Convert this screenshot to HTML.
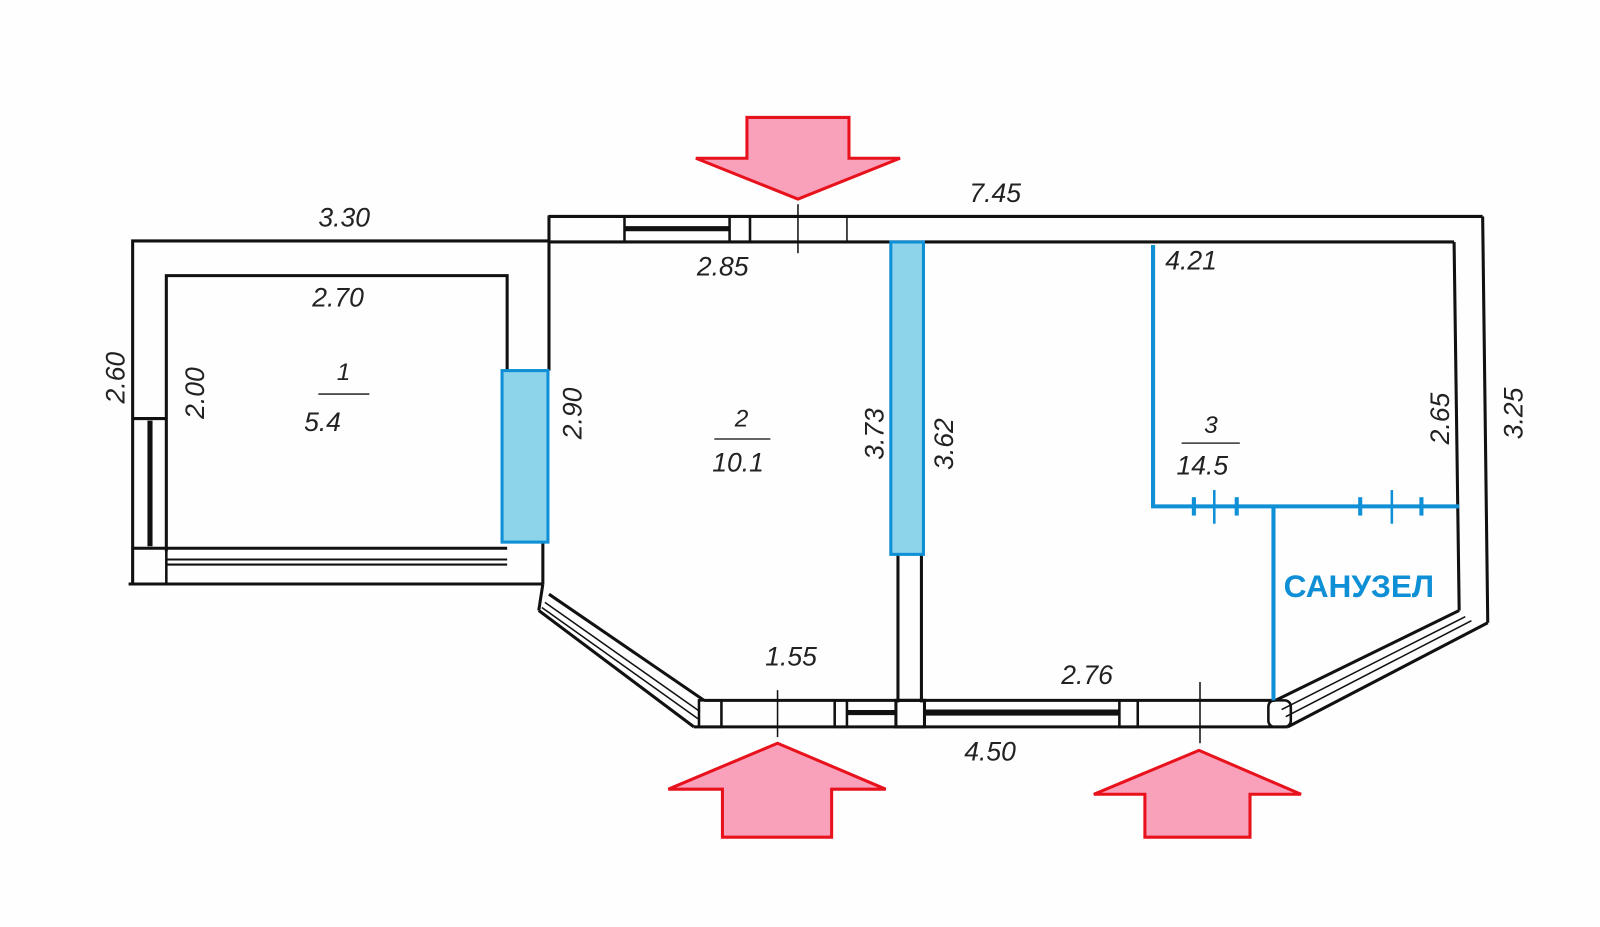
<!DOCTYPE html>
<html><head><meta charset="utf-8"><style>
html,body{margin:0;padding:0;background:#fff;}
svg{display:block}
text{font-family:"Liberation Sans",sans-serif;font-style:italic;fill:#222;font-size:26px;}
</style></head><body>
<svg width="1600" height="927" viewBox="0 0 1568 908" preserveAspectRatio="none">
<rect width="1568" height="908" fill="#fefefe"/>
<g stroke="#111" stroke-width="3" fill="none">
<polyline points="538,236 130,236 130,572"/>
<line x1="126" y1="572" x2="532" y2="572"/>
<polyline points="163,540 163,270 497,270 497,363"/>
<line x1="130" y1="410" x2="163" y2="410"/>
<line x1="147" y1="412" x2="147" y2="535" stroke-width="5"/>
<line x1="130" y1="537" x2="497" y2="537"/>
<rect x="130" y="537" width="33" height="35" stroke-width="2.5"/>
<line x1="163" y1="548" x2="497" y2="548" stroke-width="2"/>
<line x1="163" y1="553" x2="497" y2="553" stroke-width="2"/>
<line x1="532" y1="531" x2="532" y2="572"/>
<line x1="538" y1="212" x2="1453" y2="212"/>
<line x1="538" y1="237" x2="1425" y2="237"/>
<line x1="538" y1="212" x2="538" y2="363"/>
<rect x="538" y="212" width="74" height="25" stroke-width="2.5"/>
<line x1="612" y1="224" x2="715" y2="224" stroke-width="5"/>
<rect x="715" y="212" width="20" height="25" stroke-width="2.5"/>
<line x1="830" y1="212" x2="830" y2="237" stroke-width="1.5"/>
<line x1="782" y1="200" x2="782" y2="248" stroke-width="1.5"/>
<line x1="1453" y1="212" x2="1458" y2="610"/>
<line x1="1425" y1="237" x2="1430" y2="598"/>
<line x1="1458" y1="610" x2="1262" y2="712"/>
<line x1="1430" y1="598" x2="1250" y2="686"/>
<line x1="1436" y1="604" x2="1256" y2="695" stroke-width="1.5"/>
<line x1="1442" y1="608" x2="1260" y2="702" stroke-width="1.5"/>
<line x1="680" y1="712" x2="1262" y2="712"/>
<line x1="690" y1="686" x2="1250" y2="686"/>
<rect x="1243" y="686" width="22" height="26" rx="6" stroke-width="2.5"/>
<rect x="685" y="686" width="22" height="26" stroke-width="2.5"/>
<rect x="818" y="686" width="12" height="26" stroke-width="2.5"/>
<line x1="830" y1="698" x2="878" y2="698" stroke-width="5"/>
<rect x="878" y="686" width="28" height="26" stroke-width="3"/>
<line x1="906" y1="698" x2="1097" y2="698" stroke-width="6"/>
<rect x="1097" y="686" width="18" height="26" stroke-width="2.5"/>
<line x1="762" y1="676" x2="762" y2="722" stroke-width="1.5"/>
<line x1="1176" y1="668" x2="1176" y2="728" stroke-width="1.5"/>
<line x1="880" y1="543" x2="880" y2="688"/>
<line x1="903" y1="543" x2="903" y2="688"/>
<line x1="532" y1="572" x2="528" y2="598"/>
<line x1="528" y1="598" x2="680" y2="712"/>
<line x1="538" y1="582" x2="690" y2="686"/>
<line x1="534" y1="590" x2="686" y2="697" stroke-width="1.5"/>
<line x1="531" y1="595" x2="684" y2="704" stroke-width="1.5"/>
</g>
<rect x="492" y="363" width="45" height="168" fill="#8dd3ea" stroke="#0e8fd6" stroke-width="3"/>
<rect x="873" y="237" width="32" height="306" fill="#8dd3ea" stroke="#0e8fd6" stroke-width="3"/>
<g stroke="#0e8fd6" stroke-width="4" fill="none">
<polyline points="1130,240 1130,496 1430,496"/>
<line x1="1248" y1="496" x2="1248" y2="686"/>
<line x1="1170" y1="487" x2="1170" y2="505"/>
<line x1="1190" y1="480" x2="1190" y2="513" stroke-width="2.5"/>
<line x1="1212" y1="487" x2="1212" y2="505"/>
<line x1="1333" y1="487" x2="1333" y2="505"/>
<line x1="1364" y1="480" x2="1364" y2="513" stroke-width="2.5"/>
<line x1="1393" y1="487" x2="1393" y2="505"/>
</g>
<text x="1258" y="585" style="font-style:normal;font-weight:bold;fill:#0e8fd6;font-size:31px">САНУЗЕЛ</text>
<g fill="#f9a0bb" stroke="#e8121c" stroke-width="3" stroke-linejoin="miter">
<polygon points="732,115 832,115 832,155 882,155 782,195 682,155 732,155"/>
<polygon points="762,728 868,773 815,773 815,820 708,820 708,773 655,773"/>
<polygon points="1175,735 1275,778 1225,778 1225,820 1122,820 1122,778 1072,778"/>
</g>
<text x="312" y="222">3.30</text>
<text x="306" y="300">2.70</text>
<text x="950" y="198">7.45</text>
<text x="683" y="270">2.85</text>
<text x="1142" y="264">4.21</text>
<text x="750" y="652">1.55</text>
<text x="1040" y="670">2.76</text>
<text x="945" y="745">4.50</text>
<text x="330" y="372" style="font-size:24px">1</text>
<line x1="312" y1="386" x2="362" y2="386" stroke="#333" stroke-width="1.5"/>
<text x="298" y="422">5.4</text>
<text x="720" y="418" style="font-size:24px">2</text>
<line x1="700" y1="430" x2="755" y2="430" stroke="#333" stroke-width="1.5"/>
<text x="698" y="462">10.1</text>
<text x="1180" y="424" style="font-size:24px">3</text>
<line x1="1158" y1="434" x2="1215" y2="434" stroke="#333" stroke-width="1.5"/>
<text x="1153" y="465">14.5</text>
<text transform="translate(122,370) rotate(-90)" text-anchor="middle">2.60</text>
<text transform="translate(200,385) rotate(-90)" text-anchor="middle">2.00</text>
<text transform="translate(570,405) rotate(-90)" text-anchor="middle">2.90</text>
<text transform="translate(866,425) rotate(-90)" text-anchor="middle">3.73</text>
<text transform="translate(934,435) rotate(-90)" text-anchor="middle">3.62</text>
<text transform="translate(1420,410) rotate(-90)" text-anchor="middle">2.65</text>
<text transform="translate(1492,405) rotate(-90)" text-anchor="middle">3.25</text>
</svg>
</body></html>
